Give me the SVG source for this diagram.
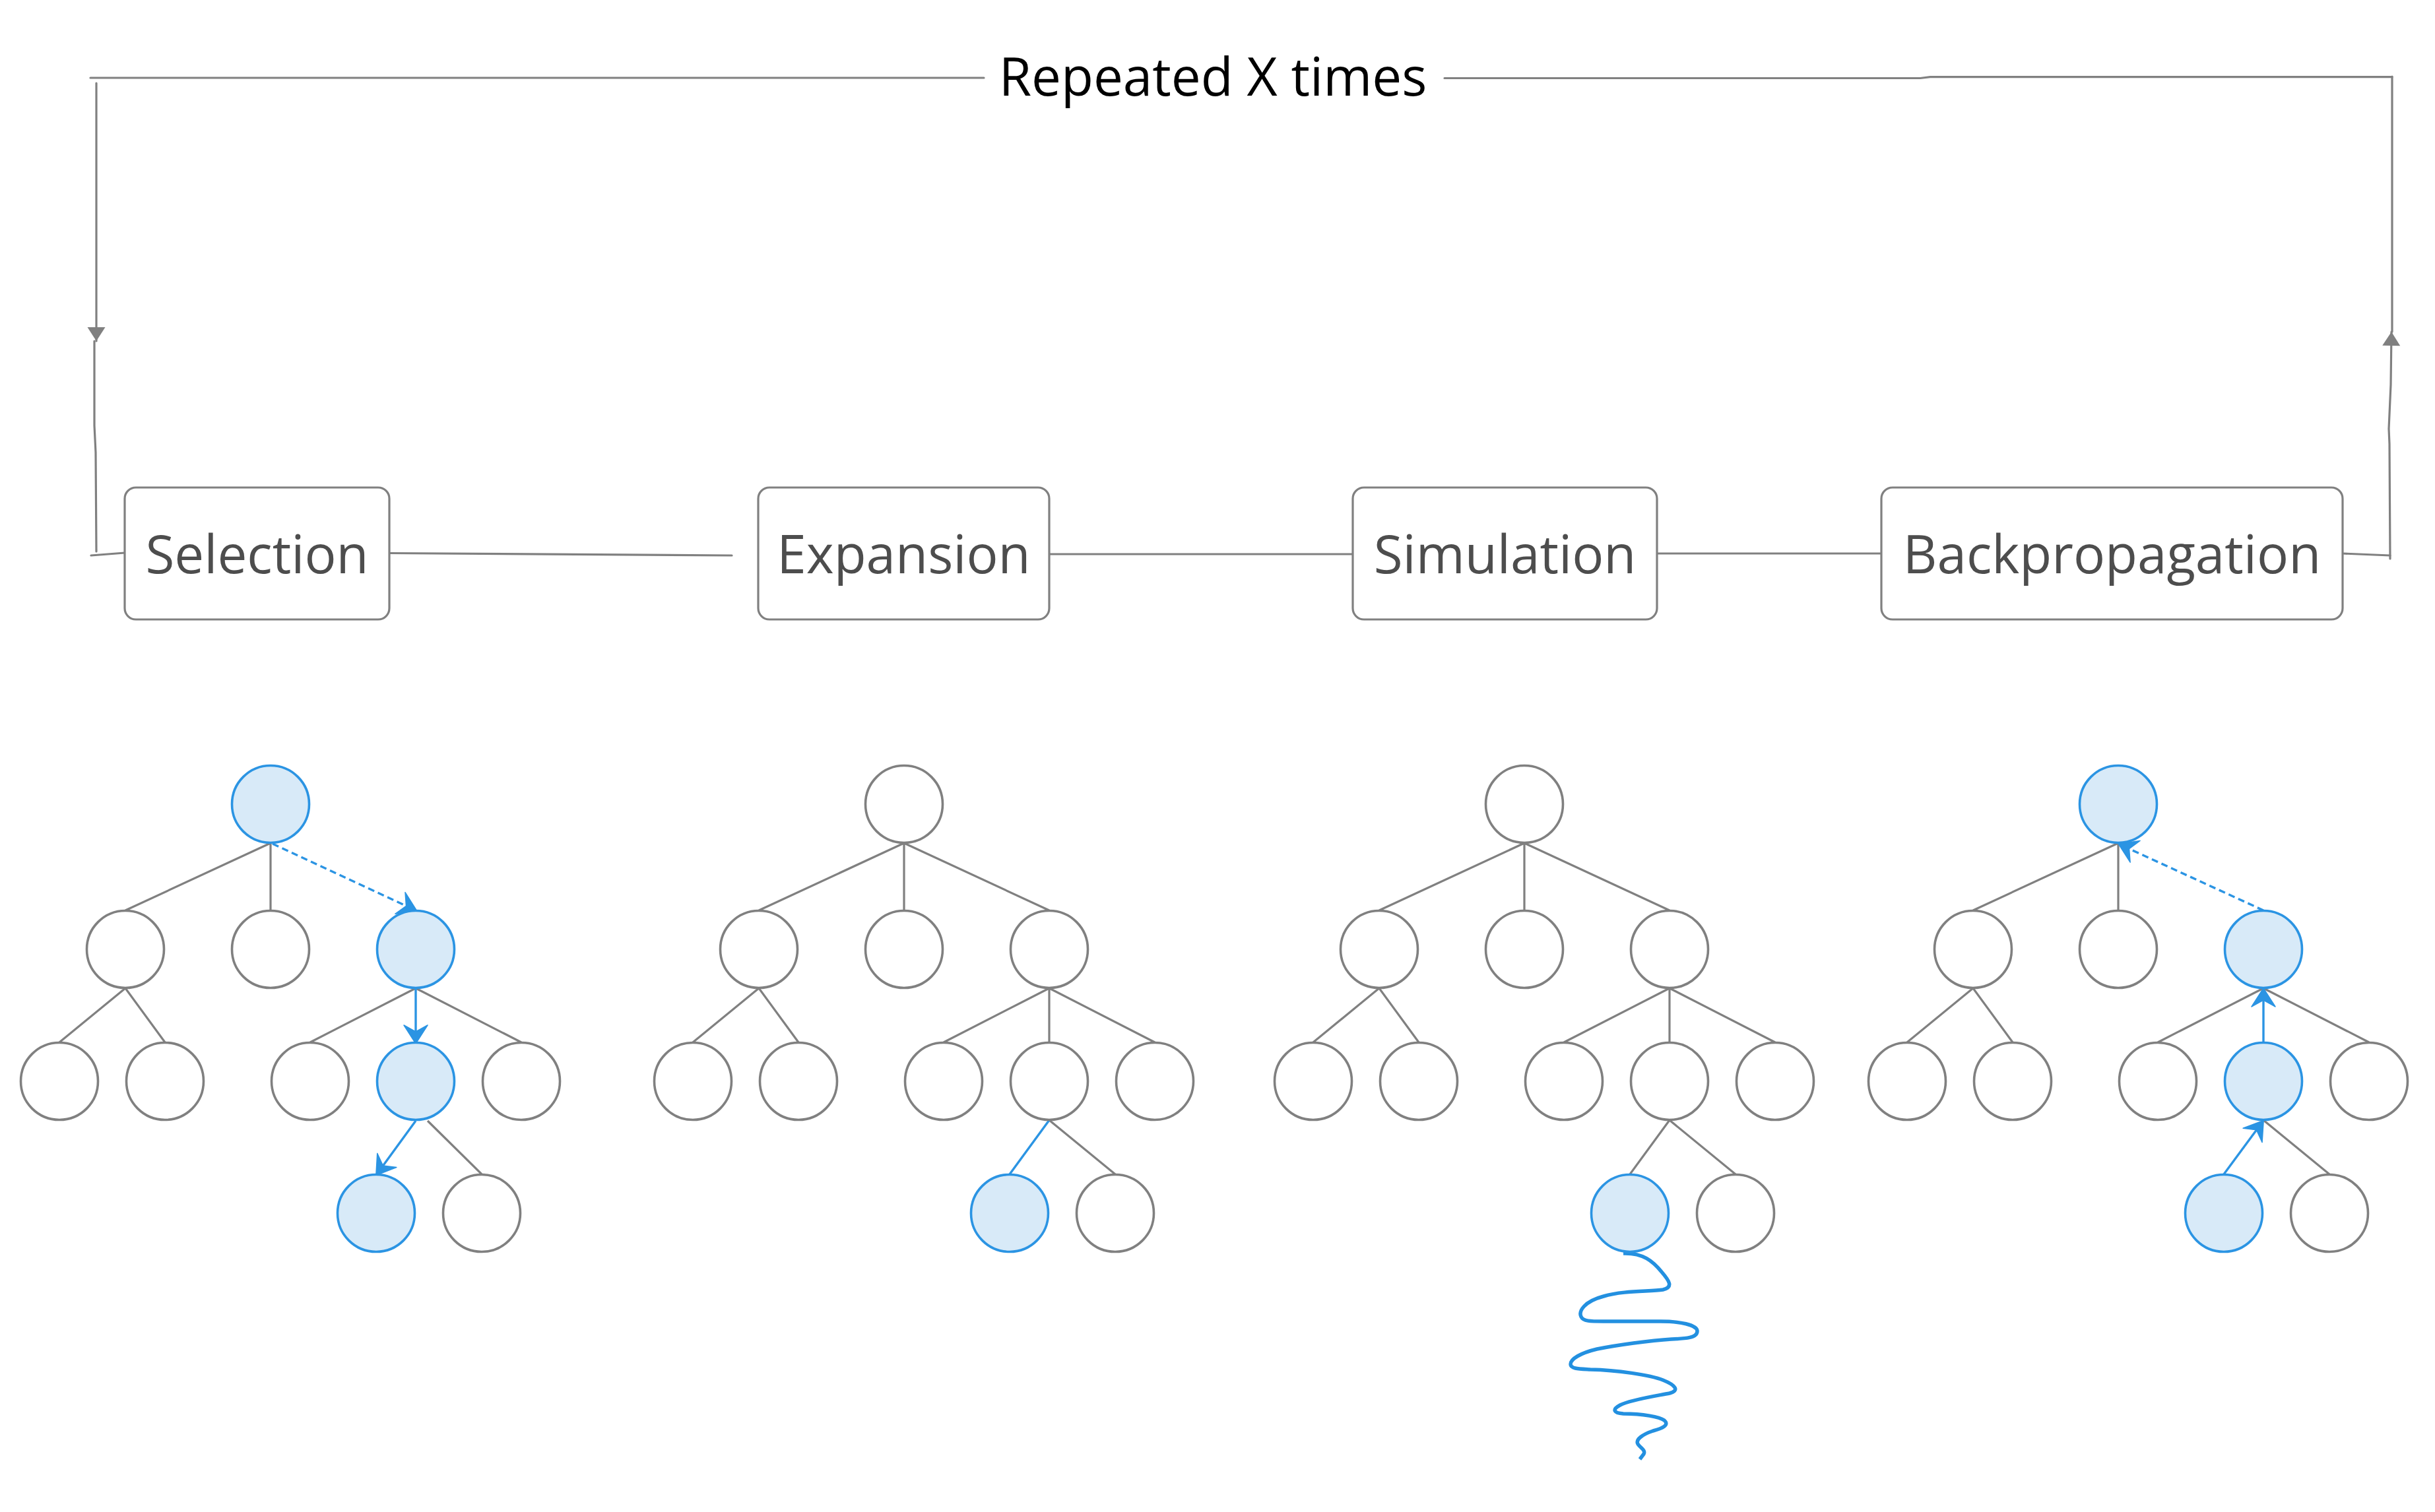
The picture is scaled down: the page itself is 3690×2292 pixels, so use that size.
<svg xmlns="http://www.w3.org/2000/svg" width="3690" height="2292" viewBox="0 0 3690 2292">
<style>
.bg{fill:#ffffff}
.box{fill:#ffffff;stroke:#808080;stroke-width:3.2}
.lbl{font-family:"Open Sans","Noto Sans",sans-serif;font-size:80px;fill:#4d4d4d;text-anchor:middle}
.title{font-family:"Open Sans","Noto Sans",sans-serif;font-size:80px;fill:#000000;text-anchor:middle}
.ln{fill:none;stroke:#808080;stroke-width:3.2;stroke-linecap:round}
.n{fill:#ffffff;stroke:#808080;stroke-width:3.6}
.h{fill:#d8eaf8;stroke:#2b94e3;stroke-width:3.6}
.e{fill:none;stroke:#808080;stroke-width:3.2}
.b{fill:none;stroke:#2b94e3;stroke-width:3.4}
.bd{fill:none;stroke:#2b94e3;stroke-width:3.4;stroke-dasharray:10 6}
.sq{fill:none;stroke:#2390e0;stroke-width:5.5;stroke-linecap:butt;stroke-linejoin:round}
</style>
<defs>
<marker id="ah" viewBox="-30 -22 34 44" refX="0" refY="0" markerWidth="34" markerHeight="44" markerUnits="userSpaceOnUse" orient="auto">
<path d="M2,0 L-26,-18 L-16,0 L-26,18 Z" fill="#2b94e3" stroke="#2b94e3" stroke-width="1.5" stroke-linejoin="round"/>
</marker>
<marker id="gah" viewBox="-24 -16 26 32" refX="0" refY="0" markerWidth="26" markerHeight="32" markerUnits="userSpaceOnUse" orient="auto">
<path d="M0,0 L-21,-13.5 L-21,13.5 Z" fill="#808080"/>
</marker>
</defs>
<rect class="bg" x="0" y="0" width="3690" height="2292"/>

<g id="connectors">
<path class="ln" d="M137,118 L1491,118"/>
<path class="ln" d="M2189,118.5 L2910,118.5 L2925,116.7 L3625,116.7"/>
<path class="ln" d="M146,126 L146,517" marker-end="url(#gah)"/>
<path class="ln" d="M143,517 L143,645 L145,686 L146,836"/>
<path class="ln" d="M138,842 L189,838"/>
<path class="ln" d="M3550,839 L3622,842"/>
<path class="ln" d="M3622,847 L3621,673 L3620,650 L3623,583 L3624,503" marker-end="url(#gah)"/>
<path class="ln" d="M3625,503 L3625,116"/>
<path class="ln" d="M590,838.5 L1109,842"/>
<path class="ln" d="M1590,840 L2050,840"/>
<path class="ln" d="M2511,839 L2851,839"/>

<path class="e" d="M410,1278 L190,1380 M410,1278 L410,1380 M190,1498 L90,1580 M190,1498 L250,1580 M630,1498 L470,1580 M630,1498 L790,1580 M648,1699 L730,1780"/>
<path class="bd" d="M413,1279 L630,1380" marker-end="url(#ah)"/>
<path class="b" d="M630,1499 L630,1580" marker-end="url(#ah)"/>
<path class="b" d="M630,1699 L571,1780" marker-end="url(#ah)"/>

<path class="e" d="M1370,1278 L1150,1380 M1370,1278 L1370,1380 M1370,1278 L1590,1380 M1150,1498 L1050,1580 M1150,1498 L1210,1580 M1590,1498 L1430,1580 M1590,1498 L1590,1580 M1590,1498 L1750,1580 M1590,1698 L1690,1780"/>
<path class="b" d="M1590,1698 L1530,1780"/>

<path class="e" d="M2310,1278 L2090,1380 M2310,1278 L2310,1380 M2310,1278 L2530,1380 M2090,1498 L1990,1580 M2090,1498 L2150,1580 M2530,1498 L2370,1580 M2530,1498 L2530,1580 M2530,1498 L2690,1580 M2530,1698 L2470,1780 M2530,1698 L2630,1780"/>
<path class="sq" d="M2460,1900 C2490,1899 2505,1912 2518,1928 C2530,1942 2536,1951 2520,1955 C2500,1958 2460,1956 2430,1965 C2400,1973 2392,1988 2396,1996 C2399,2003 2410,2003 2430,2003 L2516,2003 C2545,2003 2572,2008 2572,2018 C2572,2028 2555,2029 2533,2030 C2500,2032 2450,2039 2420,2045 C2395,2051 2380,2060 2380,2068 C2380,2075 2393,2075 2410,2076 C2450,2077 2500,2084 2520,2092 C2540,2100 2545,2108 2530,2112 C2510,2116 2470,2122 2455,2130 C2442,2137 2446,2142 2460,2143 C2490,2143 2515,2148 2522,2153 C2530,2160 2520,2165 2505,2169 C2490,2174 2478,2182 2482,2189 C2486,2195 2494,2198 2491,2204 L2485,2212"/>

<path class="e" d="M3210,1278 L2990,1380 M3210,1278 L3210,1380 M2990,1498 L2890,1580 M2990,1498 L3050,1580 M3430,1498 L3270,1580 M3430,1498 L3590,1580 M3430,1698 L3530,1780"/>
<path class="b" d="M3370,1780 L3429,1700" marker-end="url(#ah)"/>
<path class="b" d="M3430,1580 L3430,1500" marker-end="url(#ah)"/>
<path class="bd" d="M3430,1380 L3212,1280" marker-end="url(#ah)"/>
</g>

<text class="title" x="1838" y="145">Repeated X times</text>

<g id="selection"><rect class="box" x="189" y="739" width="401" height="200" rx="17"/><text class="lbl" x="389.5" y="869">Selection</text></g>
<g id="expansion"><rect class="box" x="1149" y="739" width="441" height="200" rx="17"/><text class="lbl" x="1369.5" y="869">Expansion</text></g>
<g id="simulation"><rect class="box" x="2050" y="739" width="461" height="200" rx="17"/><text class="lbl" x="2280.5" y="869">Simulation</text></g>
<g id="backpropagation"><rect class="box" x="2851" y="739" width="699" height="200" rx="17"/><text class="lbl" x="3200.5" y="869">Backpropagation</text></g>

<g id="t1-root"><circle class="h" cx="410" cy="1219" r="58.5"/></g>
<g id="t1-a1"><circle class="n" cx="190" cy="1439" r="58.5"/></g>
<g id="t1-a2"><circle class="n" cx="410" cy="1439" r="58.5"/></g>
<g id="t1-a3"><circle class="h" cx="630" cy="1439" r="58.5"/></g>
<g id="t1-b1"><circle class="n" cx="90" cy="1639" r="58.5"/></g>
<g id="t1-b2"><circle class="n" cx="250" cy="1639" r="58.5"/></g>
<g id="t1-b3"><circle class="n" cx="470" cy="1639" r="58.5"/></g>
<g id="t1-b4"><circle class="h" cx="630" cy="1639" r="58.5"/></g>
<g id="t1-b5"><circle class="n" cx="790" cy="1639" r="58.5"/></g>
<g id="t1-c1"><circle class="h" cx="570" cy="1839" r="58.5"/></g>
<g id="t1-c2"><circle class="n" cx="730" cy="1839" r="58.5"/></g>

<g id="t2-root"><circle class="n" cx="1370" cy="1219" r="58.5"/></g>
<g id="t2-a1"><circle class="n" cx="1150" cy="1439" r="58.5"/></g>
<g id="t2-a2"><circle class="n" cx="1370" cy="1439" r="58.5"/></g>
<g id="t2-a3"><circle class="n" cx="1590" cy="1439" r="58.5"/></g>
<g id="t2-b1"><circle class="n" cx="1050" cy="1639" r="58.5"/></g>
<g id="t2-b2"><circle class="n" cx="1210" cy="1639" r="58.5"/></g>
<g id="t2-b3"><circle class="n" cx="1430" cy="1639" r="58.5"/></g>
<g id="t2-b4"><circle class="n" cx="1590" cy="1639" r="58.5"/></g>
<g id="t2-b5"><circle class="n" cx="1750" cy="1639" r="58.5"/></g>
<g id="t2-c1"><circle class="h" cx="1530" cy="1839" r="58.5"/></g>
<g id="t2-c2"><circle class="n" cx="1690" cy="1839" r="58.5"/></g>

<g id="t3-root"><circle class="n" cx="2310" cy="1219" r="58.5"/></g>
<g id="t3-a1"><circle class="n" cx="2090" cy="1439" r="58.5"/></g>
<g id="t3-a2"><circle class="n" cx="2310" cy="1439" r="58.5"/></g>
<g id="t3-a3"><circle class="n" cx="2530" cy="1439" r="58.5"/></g>
<g id="t3-b1"><circle class="n" cx="1990" cy="1639" r="58.5"/></g>
<g id="t3-b2"><circle class="n" cx="2150" cy="1639" r="58.5"/></g>
<g id="t3-b3"><circle class="n" cx="2370" cy="1639" r="58.5"/></g>
<g id="t3-b4"><circle class="n" cx="2530" cy="1639" r="58.5"/></g>
<g id="t3-b5"><circle class="n" cx="2690" cy="1639" r="58.5"/></g>
<g id="t3-c1"><circle class="h" cx="2470" cy="1839" r="58.5"/></g>
<g id="t3-c2"><circle class="n" cx="2630" cy="1839" r="58.5"/></g>

<g id="t4-root"><circle class="h" cx="3210" cy="1219" r="58.5"/></g>
<g id="t4-a1"><circle class="n" cx="2990" cy="1439" r="58.5"/></g>
<g id="t4-a2"><circle class="n" cx="3210" cy="1439" r="58.5"/></g>
<g id="t4-a3"><circle class="h" cx="3430" cy="1439" r="58.5"/></g>
<g id="t4-b1"><circle class="n" cx="2890" cy="1639" r="58.5"/></g>
<g id="t4-b2"><circle class="n" cx="3050" cy="1639" r="58.5"/></g>
<g id="t4-b3"><circle class="n" cx="3270" cy="1639" r="58.5"/></g>
<g id="t4-b4"><circle class="h" cx="3430" cy="1639" r="58.5"/></g>
<g id="t4-b5"><circle class="n" cx="3590" cy="1639" r="58.5"/></g>
<g id="t4-c1"><circle class="h" cx="3370" cy="1839" r="58.5"/></g>
<g id="t4-c2"><circle class="n" cx="3530" cy="1839" r="58.5"/></g>
</svg>
